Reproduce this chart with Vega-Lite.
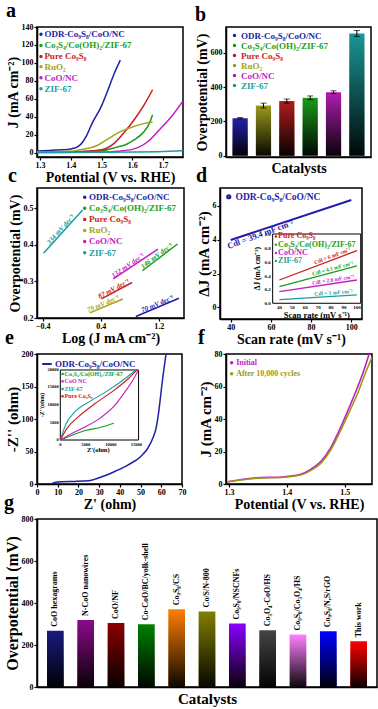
{
"$schema": "https://vega.github.io/schema/vega-lite/v6.json",
"padding": {"left": 3, "top": 0, "right": 0, "bottom": 0},
"spacing": -20,
"resolve": {"scale": {"color": "independent", "x": "independent", "y": "independent"}, "legend": {"color": "independent"}},
"config": {
 "font": "Liberation Serif",
 "view": {"stroke": "black", "strokeWidth": 1.5},
 "axis": {"grid": false, "domainColor": "black", "domainWidth": 1.5, "tickColor": "black", "tickWidth": 1.2, "tickSize": 3, "labelFontSize": 8, "labelFontWeight": "bold", "labelColor": "black", "labelPadding": 1, "titleFontSize": 14, "titleFontWeight": "bold", "titleColor": "black", "titlePadding": 1, "labelFlush": false, "labelOverlap": false},
 "title": {"fontSize": 20, "fontWeight": "bold", "anchor": "start", "frame": "bounds", "offset": 2, "color": "black"},
 "legend": {"labelFontSize": 9, "labelFontWeight": "bold", "rowPadding": -5, "padding": 2, "offset": 2, "labelOffset": 2, "symbolSize": 14, "symbolStrokeWidth": 0},
 "text": {"fontWeight": "bold"}
},
"datasets": {
 "lsv": [
  {"s":"ODR-Co₉S₈/CoO/NC","V":1.29,"J":1.8},{"s":"ODR-Co₉S₈/CoO/NC","V":1.33,"J":2.3},{"s":"ODR-Co₉S₈/CoO/NC","V":1.37,"J":3},{"s":"ODR-Co₉S₈/CoO/NC","V":1.40,"J":4},{"s":"ODR-Co₉S₈/CoO/NC","V":1.42,"J":6},{"s":"ODR-Co₉S₈/CoO/NC","V":1.435,"J":10},{"s":"ODR-Co₉S₈/CoO/NC","V":1.45,"J":18},{"s":"ODR-Co₉S₈/CoO/NC","V":1.47,"J":33},{"s":"ODR-Co₉S₈/CoO/NC","V":1.50,"J":52},{"s":"ODR-Co₉S₈/CoO/NC","V":1.52,"J":69},{"s":"ODR-Co₉S₈/CoO/NC","V":1.54,"J":87},{"s":"ODR-Co₉S₈/CoO/NC","V":1.561,"J":103},
  {"s":"Co₃S₄/Co(OH)₂/ZIF-67","V":1.29,"J":0.3},{"s":"Co₃S₄/Co(OH)₂/ZIF-67","V":1.45,"J":1},{"s":"Co₃S₄/Co(OH)₂/ZIF-67","V":1.50,"J":2},{"s":"Co₃S₄/Co(OH)₂/ZIF-67","V":1.55,"J":6},{"s":"Co₃S₄/Co(OH)₂/ZIF-67","V":1.58,"J":9},{"s":"Co₃S₄/Co(OH)₂/ZIF-67","V":1.606,"J":14},{"s":"Co₃S₄/Co(OH)₂/ZIF-67","V":1.64,"J":24},{"s":"Co₃S₄/Co(OH)₂/ZIF-67","V":1.655,"J":32},{"s":"Co₃S₄/Co(OH)₂/ZIF-67","V":1.666,"J":42},
  {"s":"Pure Co₉S₈","V":1.29,"J":0.5},{"s":"Pure Co₉S₈","V":1.40,"J":0.8},{"s":"Pure Co₉S₈","V":1.45,"J":1.5},{"s":"Pure Co₉S₈","V":1.50,"J":3},{"s":"Pure Co₉S₈","V":1.54,"J":10},{"s":"Pure Co₉S₈","V":1.575,"J":23},{"s":"Pure Co₉S₈","V":1.605,"J":36},{"s":"Pure Co₉S₈","V":1.64,"J":54},{"s":"Pure Co₉S₈","V":1.666,"J":70},
  {"s":"RuO₂","V":1.29,"J":0.8},{"s":"RuO₂","V":1.40,"J":1.5},{"s":"RuO₂","V":1.43,"J":3},{"s":"RuO₂","V":1.46,"J":5},{"s":"RuO₂","V":1.48,"J":7},{"s":"RuO₂","V":1.52,"J":15},{"s":"RuO₂","V":1.56,"J":23},{"s":"RuO₂","V":1.60,"J":28.5},{"s":"RuO₂","V":1.64,"J":32.5},{"s":"RuO₂","V":1.666,"J":34},
  {"s":"CoO/NC","V":1.29,"J":0},{"s":"CoO/NC","V":1.50,"J":0.5},{"s":"CoO/NC","V":1.55,"J":1.5},{"s":"CoO/NC","V":1.60,"J":3.5},{"s":"CoO/NC","V":1.65,"J":12},{"s":"CoO/NC","V":1.69,"J":26},{"s":"CoO/NC","V":1.725,"J":39},{"s":"CoO/NC","V":1.764,"J":57},
  {"s":"ZIF-67","V":1.29,"J":0},{"s":"ZIF-67","V":1.5,"J":0.3},{"s":"ZIF-67","V":1.6,"J":0.6},{"s":"ZIF-67","V":1.7,"J":1.2},{"s":"ZIF-67","V":1.764,"J":2}
 ],
 "aleg": [{"s":"ODR-Co₉S₈/CoO/NC","y":131.8},{"s":"Co₃S₄/Co(OH)₂/ZIF-67","y":119.4},{"s":"Pure Co₉S₈","y":107.1},{"s":"RuO₂","y":95.8},{"s":"CoO/NC","y":83.5},{"s":"ZIF-67","y":71.1}],
 "ovb": [
  {"c":"ODR-Co₉S₈/CoO/NC","v":218,"lo":214,"hi":222},
  {"c":"RuO₂","v":292,"lo":278,"hi":306},
  {"c":"Pure Co₉S₈","v":318,"lo":306,"hi":330},
  {"c":"Co₃S₄/Co(OH)₂/ZIF-67","v":337,"lo":326,"hi":348},
  {"c":"CoO/NC","v":370,"lo":362,"hi":378},
  {"c":"ZIF-67","v":712,"lo":694,"hi":730}
 ],
 "tafel": [
  {"s":"ZIF-67","x":-0.39,"y":0.377},{"s":"ZIF-67","x":0.15,"y":0.495},
  {"s":"CoO/NC","x":0.573,"y":0.307},{"s":"CoO/NC","x":1.19,"y":0.388},
  {"s":"Co₃S₄/Co(OH)₂/ZIF-67","x":0.975,"y":0.329},{"s":"Co₃S₄/Co(OH)₂/ZIF-67","x":1.46,"y":0.402},
  {"s":"Pure Co₉S₈","x":0.41,"y":0.252},{"s":"Pure Co₉S₈","x":0.833,"y":0.297},
  {"s":"RuO₂","x":0.25,"y":0.214},{"s":"RuO₂","x":0.705,"y":0.252},
  {"s":"ODR-Co₉S₈/CoO/NC","x":0.885,"y":0.204},{"s":"ODR-Co₉S₈/CoO/NC","x":1.48,"y":0.254}
 ],
 "cleg": [{"s":"ODR-Co₉S₈/CoO/NC","y":0.530},{"s":"Co₃S₄/Co(OH)₂/ZIF-67","y":0.4995},{"s":"Pure Co₉S₈","y":0.469},{"s":"RuO₂","y":0.439},{"s":"CoO/NC","y":0.409},{"s":"ZIF-67","y":0.378}],
 "tlab": [
  {"s":"ZIF-67","x":-0.12,"y":0.436,"t":"334 mV dec⁻¹"},
  {"s":"CoO/NC","x":0.8,"y":0.336,"t":"132 mV dec⁻¹"},
  {"s":"Co₃S₄/Co(OH)₂/ZIF-67","x":1.2,"y":0.363,"t":"146 mV dec⁻¹"},
  {"s":"Pure Co₉S₈","x":0.6,"y":0.272,"t":"87 mV dec⁻¹"},
  {"s":"RuO₂","x":0.45,"y":0.231,"t":"79 mV dec⁻¹"},
  {"s":"ODR-Co₉S₈/CoO/NC","x":1.2,"y":0.2305,"t":"70 mV dec⁻¹"}
 ],
 "cdl": [{"s":"ODR-Co₉S₈/CoO/NC","x":40,"y":3.98},{"s":"ODR-Co₉S₈/CoO/NC","x":100,"y":6.34}],
 "cdlLab": [{"x":54,"y":4.55,"t":"Cdl = 39.4 mF cm⁻²"}],
 "cdlIn": [
  {"s":"Pure Co₉S₈","x":40,"y":0.336},{"s":"Pure Co₉S₈","x":100,"y":0.76},
  {"s":"Co₃S₄/Co(OH)₂/ZIF-67","x":40,"y":0.24},{"s":"Co₃S₄/Co(OH)₂/ZIF-67","x":100,"y":0.54},
  {"s":"CoO/NC","x":40,"y":0.167},{"s":"CoO/NC","x":100,"y":0.336},
  {"s":"ZIF-67","x":40,"y":0.052},{"s":"ZIF-67","x":100,"y":0.12}
 ],
 "cdlInLeg": [{"s":"Pure Co₉S₈","y":0.965},{"s":"Co₃S₄/Co(OH)₂/ZIF-67","y":0.845},{"s":"CoO/NC","y":0.725},{"s":"ZIF-67","y":0.61}],
 "cdlInLab": [
  {"s":"Pure Co₉S₈","x":82,"y":0.633,"t":"Cdl = 6 mF cm⁻²"},
  {"s":"Co₃S₄/Co(OH)₂/ZIF-67","x":82,"y":0.45,"t":"Cdl = 4.1 mF cm⁻²"},
  {"s":"CoO/NC","x":82,"y":0.285,"t":"Cdl = 2.8 mF cm⁻²"},
  {"s":"ZIF-67","x":82,"y":0.1,"t":"Cdl = 1 mF cm⁻²"}
 ],
 "cdlInX": [{"t":40},{"t":50},{"t":60},{"t":70},{"t":80},{"t":90},{"t":100}],
 "cdlInY": [{"t":0},{"t":0.2},{"t":0.4},{"t":0.6},{"t":0.8},{"t":1.0}],
 "eis": [
  {"s":"ODR-Co₉S₈/CoO/NC","x":7,"y":0},{"s":"ODR-Co₉S₈/CoO/NC","x":8.5,"y":2.5},{"s":"ODR-Co₉S₈/CoO/NC","x":12,"y":3.5},{"s":"ODR-Co₉S₈/CoO/NC","x":18,"y":4},{"s":"ODR-Co₉S₈/CoO/NC","x":25,"y":5},{"s":"ODR-Co₉S₈/CoO/NC","x":29,"y":8.5},{"s":"ODR-Co₉S₈/CoO/NC","x":33,"y":13},{"s":"ODR-Co₉S₈/CoO/NC","x":38,"y":20},{"s":"ODR-Co₉S₈/CoO/NC","x":44,"y":29.5},{"s":"ODR-Co₉S₈/CoO/NC","x":50,"y":42},{"s":"ODR-Co₉S₈/CoO/NC","x":53.5,"y":55},{"s":"ODR-Co₉S₈/CoO/NC","x":56,"y":71},{"s":"ODR-Co₉S₈/CoO/NC","x":57.5,"y":86},{"s":"ODR-Co₉S₈/CoO/NC","x":58.5,"y":105},{"s":"ODR-Co₉S₈/CoO/NC","x":59.3,"y":125},{"s":"ODR-Co₉S₈/CoO/NC","x":60.2,"y":150},{"s":"ODR-Co₉S₈/CoO/NC","x":61.5,"y":182},{"s":"ODR-Co₉S₈/CoO/NC","x":62.3,"y":200}
 ],
 "eisIn": [
  {"s":"Co₃S₄/Co(OH)₂/ZIF-67","x":0,"y":0},{"s":"Co₃S₄/Co(OH)₂/ZIF-67","x":2100,"y":1240},{"s":"Co₃S₄/Co(OH)₂/ZIF-67","x":4760,"y":2670},{"s":"Co₃S₄/Co(OH)₂/ZIF-67","x":8060,"y":3620},{"s":"Co₃S₄/Co(OH)₂/ZIF-67","x":10570,"y":4760},
  {"s":"CoO NC","x":0,"y":0},{"s":"CoO NC","x":2100,"y":1700},{"s":"CoO NC","x":4760,"y":3620},{"s":"CoO NC","x":8060,"y":6480},{"s":"CoO NC","x":10700,"y":9810},{"s":"CoO NC","x":12690,"y":13620},{"s":"CoO NC","x":14670,"y":17900},{"s":"CoO NC","x":15400,"y":20000},
  {"s":"ZIF-67","x":0,"y":0},{"s":"ZIF-67","x":1120,"y":4570},{"s":"ZIF-67","x":2780,"y":7900},{"s":"ZIF-67","x":6080,"y":11240},{"s":"ZIF-67","x":9380,"y":14100},{"s":"ZIF-67","x":12690,"y":17430},{"s":"ZIF-67","x":14900,"y":20000},
  {"s":"Pure Co₉S₈","x":0,"y":0},{"s":"Pure Co₉S₈","x":1450,"y":3620},{"s":"Pure Co₉S₈","x":3440,"y":6480},{"s":"Pure Co₉S₈","x":6740,"y":10290},{"s":"Pure Co₉S₈","x":10040,"y":13620},{"s":"Pure Co₉S₈","x":13350,"y":17430},{"s":"Pure Co₉S₈","x":15100,"y":20000}
 ],
 "eisInLeg": [{"s":"Co₃S₄/Co(OH)₂/ZIF-67","y":18860},{"s":"CoO NC","y":16770},{"s":"ZIF-67","y":14570},{"s":"Pure Co₉S₈","y":12490}],
 "eisInX": [{"t":0},{"t":5000},{"t":10000},{"t":15000}],
 "eisInY": [{"t":0},{"t":5000},{"t":10000},{"t":15000},{"t":20000}],
 "stab": [
  {"s":"Initial","V":1.297,"J":1.4},{"s":"Initial","V":1.344,"J":3.7},{"s":"Initial","V":1.396,"J":4.5},{"s":"Initial","V":1.424,"J":6},{"s":"Initial","V":1.441,"J":9},{"s":"Initial","V":1.459,"J":14},{"s":"Initial","V":1.476,"J":22.6},{"s":"Initial","V":1.493,"J":35},{"s":"Initial","V":1.51,"J":49},{"s":"Initial","V":1.522,"J":59.5},{"s":"Initial","V":1.533,"J":70},{"s":"Initial","V":1.542,"J":80},
  {"s":"After 10,000 cycles","V":1.297,"J":1.2},{"s":"After 10,000 cycles","V":1.344,"J":3.4},{"s":"After 10,000 cycles","V":1.396,"J":4.2},{"s":"After 10,000 cycles","V":1.424,"J":5.5},{"s":"After 10,000 cycles","V":1.441,"J":8.2},{"s":"After 10,000 cycles","V":1.459,"J":12.8},{"s":"After 10,000 cycles","V":1.476,"J":21},{"s":"After 10,000 cycles","V":1.493,"J":33},{"s":"After 10,000 cycles","V":1.51,"J":46},{"s":"After 10,000 cycles","V":1.522,"J":55.5},{"s":"After 10,000 cycles","V":1.533,"J":66},{"s":"After 10,000 cycles","V":1.547,"J":78}
 ],
 "fleg": [{"s":"Initial","y":74.6},{"s":"After 10,000 cycles","y":67.9}],
 "lit": [
  {"c":"CoO hexagrams","v":268},{"c":"N-CoO nanowires","v":319},{"c":"CoO/NF","v":305},{"c":"Co-CoO/BC/yolk-shell","v":299},{"c":"Co₉S₈/CS","v":370},{"c":"Co/S/N-800","v":360},{"c":"Co₉S₈/NSCNFs","v":302},{"c":"Co₃O₄-CoO/HS","v":270},{"c":"Co₉S₈/Co₃O₄/HS","v":250},{"c":"Co₉S₈/N,S/rGO","v":265},{"c":"This work","v":218}
 ]
},
"vconcat": [
 {"hconcat": [
  {
   "title": "a", "width": 146, "height": 130,
   "layer": [
    {"data": {"name": "lsv"}, "mark": {"type": "line", "strokeWidth": 1.5, "interpolate": "monotone", "clip": true},
     "encoding": {
      "x": {"field": "V", "type": "quantitative", "scale": {"domain": [1.29, 1.765], "nice": false, "zero": false}, "axis": {"values": [1.3,1.4,1.5,1.6,1.7], "format": ".1f", "title": "Potential (V vs. RHE)"}},
      "y": {"field": "J", "type": "quantitative", "scale": {"domain": [-5, 140], "nice": false}, "axis": {"values": [0,20,40,60,80,100,120,140], "title": "J (mA cm⁻²)"}},
      "color": {"field": "s", "type": "nominal", "scale": {"domain": ["ODR-Co₉S₈/CoO/NC","Co₃S₄/Co(OH)₂/ZIF-67","Pure Co₉S₈","RuO₂","CoO/NC","ZIF-67"], "range": ["#1e1ea8","#1a9e1a","#c81e1e","#a3a31c","#c41cc4","#1a9e9e"]}, "legend": null}
     }},
    {"data": {"name": "aleg"}, "mark": {"type": "point", "filled": true, "size": 12, "opacity": 1}, "encoding": {
      "x": {"datum": 1.303, "type": "quantitative", "axis": {"values": [1.3,1.4,1.5,1.6,1.7], "format": ".1f", "title": "Potential (V vs. RHE)"}},
      "y": {"field": "y", "type": "quantitative", "axis": {"values": [0,20,40,60,80,100,120,140], "title": "J (mA cm⁻²)"}},
      "color": {"field": "s", "type": "nominal", "legend": null}}},
    {"data": {"name": "aleg"}, "mark": {"type": "text", "align": "left", "baseline": "middle", "fontSize": 9}, "encoding": {
      "x": {"datum": 1.314, "type": "quantitative", "axis": {"values": [1.3,1.4,1.5,1.6,1.7], "format": ".1f", "title": "Potential (V vs. RHE)"}},
      "y": {"field": "y", "type": "quantitative", "axis": {"values": [0,20,40,60,80,100,120,140], "title": "J (mA cm⁻²)"}},
      "text": {"field": "s"}, "color": {"field": "s", "type": "nominal", "legend": null}}}
   ]
  },
  {
   "title": "b", "width": 145, "height": 130,
   "data": {"name": "ovb"},
   "encoding": {"x": {"field": "c", "type": "nominal", "sort": null, "scale": {"paddingInner": 0.35, "paddingOuter": 0.28}, "axis": {"labels": false, "ticks": false, "title": "Catalysts", "titlePadding": 4}}},
   "layer": [
    {"mark": {"type": "bar"}, "encoding": {
      "y": {"field": "v", "type": "quantitative", "scale": {"domain": [-8, 750], "nice": false}, "axis": {"values": [0,100,200,300,400,500,600,700], "title": "Overpotential (mV)"}},
      "color": {"field": "c", "type": "nominal", "scale": {"domain": ["ODR-Co₉S₈/CoO/NC","Co₃S₄/Co(OH)₂/ZIF-67","Pure Co₉S₈","RuO₂","CoO/NC","ZIF-67"], "range": ["#2020a8","#1a9a1a","#b01c1c","#9a9a1c","#b01cb0","#1a9696"]},
       "legend": {"title": null, "orient": "top-left", "symbolType": "circle", "symbolSize": 12, "rowPadding": -6, "labelColor": {"expr": "['#1e1ea8','#1a9e1a','#c81e1e','#a3a31c','#c41cc4','#1a9e9e'][indexof(['ODR-Co₉S₈/CoO/NC','Co₃S₄/Co(OH)₂/ZIF-67','Pure Co₉S₈','RuO₂','CoO/NC','ZIF-67'], datum.label)]"}}}}},
    {"mark": {"type": "bar", "fill": {"gradient": "linear", "x1": 0, "y1": 0, "x2": 0, "y2": 1, "stops": [{"offset": 0, "color": "rgba(0,0,0,0)"}, {"offset": 1, "color": "rgba(0,0,0,0.95)"}]}}, "encoding": {"y": {"field": "v", "type": "quantitative", "title": "Overpotential (mV)"}}},
    {"mark": {"type": "rule", "color": "black", "strokeWidth": 1}, "encoding": {"y": {"field": "lo", "type": "quantitative", "title": "Overpotential (mV)"}, "y2": {"field": "hi"}}},
    {"mark": {"type": "tick", "color": "black", "thickness": 1, "size": 6}, "encoding": {"y": {"field": "lo", "type": "quantitative", "title": "Overpotential (mV)"}}},
    {"mark": {"type": "tick", "color": "black", "thickness": 1, "size": 6}, "encoding": {"y": {"field": "hi", "type": "quantitative", "title": "Overpotential (mV)"}}}
   ]
  }
 ], "spacing": 10, "resolve": {"scale": {"color": "independent", "x": "independent", "y": "independent"}, "legend": {"color": "independent"}}},
 {"hconcat": [
  {
   "title": "c", "width": 147, "height": 130,
   "layer": [
    {"data": {"name": "tafel"}, "mark": {"type": "line", "strokeWidth": 1.5},
     "encoding": {
      "x": {"field": "x", "type": "quantitative", "scale": {"domain": [-0.48, 1.55], "nice": false, "zero": false}, "axis": {"values": [-0.4,0,0.4,0.8,1.2], "format": ".1f", "title": "Log (J mA cm⁻²)"}},
      "y": {"field": "y", "type": "quantitative", "scale": {"domain": [0.2, 0.555], "nice": false, "zero": false}, "axis": {"values": [0.2,0.3,0.4,0.5], "format": ".1f", "title": "Overpotential (mV)"}},
      "color": {"field": "s", "type": "nominal", "scale": {"domain": ["ODR-Co₉S₈/CoO/NC","Co₃S₄/Co(OH)₂/ZIF-67","Pure Co₉S₈","RuO₂","CoO/NC","ZIF-67"], "range": ["#1e1ea8","#1a9e1a","#c81e1e","#a3a31c","#c41cc4","#1a9e9e"]}, "legend": null}
     }},
    {"data": {"name": "cleg"}, "mark": {"type": "point", "filled": true, "size": 12, "opacity": 1}, "encoding": {
      "x": {"datum": 0.179, "type": "quantitative", "axis": {"values": [-0.4,0,0.4,0.8,1.2], "format": ".1f", "title": "Log (J mA cm⁻²)"}},
      "y": {"field": "y", "type": "quantitative", "axis": {"values": [0.2,0.3,0.4,0.5], "format": ".1f", "title": "Overpotential (mV)"}},
      "color": {"field": "s", "type": "nominal", "legend": null}}},
    {"data": {"name": "cleg"}, "mark": {"type": "text", "align": "left", "baseline": "middle", "fontSize": 9}, "encoding": {
      "x": {"datum": 0.238, "type": "quantitative", "axis": {"values": [-0.4,0,0.4,0.8,1.2], "format": ".1f", "title": "Log (J mA cm⁻²)"}},
      "y": {"field": "y", "type": "quantitative", "axis": {"values": [0.2,0.3,0.4,0.5], "format": ".1f", "title": "Overpotential (mV)"}},
      "text": {"field": "s"}, "color": {"field": "s", "type": "nominal", "legend": null}}},
    {"data": {"name": "tlab"}, "transform": [{"filter": "datum.s == 'ZIF-67'"}], "mark": {"type": "text", "angle": 312, "baseline": "bottom", "fontSize": 7, "fontStyle": "italic", "color": "#1a9e9e"}, "encoding": {"x": {"field": "x", "type": "quantitative", "title": "Log (J mA cm⁻²)"}, "y": {"field": "y", "type": "quantitative", "title": "Overpotential (mV)"}, "text": {"field": "t"}}},
    {"data": {"name": "tlab"}, "transform": [{"filter": "datum.s == 'CoO/NC'"}], "mark": {"type": "text", "angle": 326, "baseline": "bottom", "fontSize": 7, "fontStyle": "italic", "color": "#c41cc4"}, "encoding": {"x": {"field": "x", "type": "quantitative", "title": "Log (J mA cm⁻²)"}, "y": {"field": "y", "type": "quantitative", "title": "Overpotential (mV)"}, "text": {"field": "t"}}},
    {"data": {"name": "tlab"}, "transform": [{"filter": "datum.s == 'Co₃S₄/Co(OH)₂/ZIF-67'"}], "mark": {"type": "text", "angle": 323, "baseline": "bottom", "fontSize": 7, "fontStyle": "italic", "color": "#1a9e1a"}, "encoding": {"x": {"field": "x", "type": "quantitative", "title": "Log (J mA cm⁻²)"}, "y": {"field": "y", "type": "quantitative", "title": "Overpotential (mV)"}, "text": {"field": "t"}}},
    {"data": {"name": "tlab"}, "transform": [{"filter": "datum.s == 'Pure Co₉S₈'"}], "mark": {"type": "text", "angle": 332, "baseline": "bottom", "fontSize": 7, "fontStyle": "italic", "color": "#c81e1e"}, "encoding": {"x": {"field": "x", "type": "quantitative", "title": "Log (J mA cm⁻²)"}, "y": {"field": "y", "type": "quantitative", "title": "Overpotential (mV)"}, "text": {"field": "t"}}},
    {"data": {"name": "tlab"}, "transform": [{"filter": "datum.s == 'RuO₂'"}], "mark": {"type": "text", "angle": 337, "baseline": "bottom", "fontSize": 7, "fontStyle": "italic", "color": "#a3a31c"}, "encoding": {"x": {"field": "x", "type": "quantitative", "title": "Log (J mA cm⁻²)"}, "y": {"field": "y", "type": "quantitative", "title": "Overpotential (mV)"}, "text": {"field": "t"}}},
    {"data": {"name": "tlab"}, "transform": [{"filter": "datum.s == 'ODR-Co₉S₈/CoO/NC'"}], "mark": {"type": "text", "angle": 337, "baseline": "bottom", "fontSize": 7, "fontStyle": "italic", "color": "#1e1ea8"}, "encoding": {"x": {"field": "x", "type": "quantitative", "title": "Log (J mA cm⁻²)"}, "y": {"field": "y", "type": "quantitative", "title": "Overpotential (mV)"}, "text": {"field": "t"}}}
   ]
  },
  {
   "title": "d", "width": 142, "height": 131,
   "layer": [
    {"layer": [
     {"data": {"name": "cdl"}, "mark": {"type": "line", "strokeWidth": 2},
      "encoding": {
       "x": {"field": "x", "type": "quantitative", "scale": {"domain": [34.7, 105.3], "nice": false, "zero": false}, "axis": {"values": [40,50,60,70,80,90,100], "title": "Scan rate (mV s⁻¹)"}},
       "y": {"field": "y", "type": "quantitative", "scale": {"domain": [-0.68, 7.05], "nice": false, "zero": false}, "axis": {"values": [0,1,2,3,4,5,6,7], "title": "ΔJ (mA cm⁻²)", "titleFontSize": 15}},
       "color": {"field": "s", "type": "nominal", "scale": {"domain": ["ODR-Co₉S₈/CoO/NC"], "range": ["#1e1ea8"]}, "legend": {"title": null, "orient": "top-left", "symbolType": "circle", "symbolSize": 5, "symbolStrokeWidth": 3, "labelFontSize": 9.5, "labelColor": "#1e1ea8"}}
      }},
     {"data": {"name": "cdlLab"}, "mark": {"type": "text", "angle": 340, "baseline": "top", "dy": 0, "fontSize": 8.5, "color": "#1e1ea8"},
      "encoding": {"x": {"field": "x", "type": "quantitative", "title": "Scan rate (mV s⁻¹)"}, "y": {"field": "y", "type": "quantitative", "title": "ΔJ (mA cm⁻²)"}, "text": {"field": "t"}}}
    ]},
    {"layer": [
     {"data": {"values": [{}]}, "mark": {"type": "rect", "fill": "white", "stroke": "black", "strokeWidth": 1},
      "encoding": {"x": {"datum": 34.8, "type": "quantitative", "scale": {"domain": [-5.94, 103.9], "nice": false, "zero": false}, "axis": null}, "x2": {"datum": 102.9}, "y": {"datum": 0, "type": "quantitative", "scale": {"domain": [-0.227, 1.664], "nice": false, "zero": false}, "axis": null}, "y2": {"datum": 1.0}}},
     {"data": {"name": "cdlIn"}, "mark": {"type": "line", "strokeWidth": 1.3},
      "encoding": {"x": {"field": "x", "type": "quantitative", "axis": null}, "y": {"field": "y", "type": "quantitative", "axis": null},
       "color": {"field": "s", "type": "nominal", "scale": {"domain": ["Pure Co₉S₈","Co₃S₄/Co(OH)₂/ZIF-67","CoO/NC","ZIF-67"], "range": ["#c81e1e","#1a9e1a","#c41cc4","#1a9e9e"]}, "legend": null}}},
     {"data": {"name": "cdlInLeg"}, "mark": {"type": "point", "filled": true, "size": 6, "opacity": 1},
      "encoding": {"x": {"datum": 37.3, "type": "quantitative", "axis": null}, "y": {"field": "y", "type": "quantitative", "axis": null}, "color": {"field": "s", "type": "nominal", "legend": null}}},
     {"data": {"name": "cdlInLeg"}, "mark": {"type": "text", "align": "left", "baseline": "middle", "fontSize": 8},
      "encoding": {"x": {"datum": 39, "type": "quantitative", "axis": null}, "y": {"field": "y", "type": "quantitative", "axis": null}, "text": {"field": "s"}, "color": {"field": "s", "type": "nominal", "legend": null}}},
     {"data": {"name": "cdlInLab"}, "transform": [{"filter": "datum.s == 'Pure Co₉S₈'"}], "mark": {"type": "text", "angle": 339, "baseline": "bottom", "dy": -1, "fontSize": 5.5, "color": "#c81e1e"},
      "encoding": {"x": {"field": "x", "type": "quantitative", "axis": null}, "y": {"field": "y", "type": "quantitative", "axis": null}, "text": {"field": "t"}}},
     {"data": {"name": "cdlInLab"}, "transform": [{"filter": "datum.s == 'Co₃S₄/Co(OH)₂/ZIF-67'"}], "mark": {"type": "text", "angle": 345, "baseline": "bottom", "dy": -1, "fontSize": 5.5, "color": "#1a9e1a"},
      "encoding": {"x": {"field": "x", "type": "quantitative", "axis": null}, "y": {"field": "y", "type": "quantitative", "axis": null}, "text": {"field": "t"}}},
     {"data": {"name": "cdlInLab"}, "transform": [{"filter": "datum.s == 'CoO/NC'"}], "mark": {"type": "text", "angle": 351, "baseline": "bottom", "dy": -1, "fontSize": 5.5, "color": "#c41cc4"},
      "encoding": {"x": {"field": "x", "type": "quantitative", "axis": null}, "y": {"field": "y", "type": "quantitative", "axis": null}, "text": {"field": "t"}}},
     {"data": {"name": "cdlInLab"}, "transform": [{"filter": "datum.s == 'ZIF-67'"}], "mark": {"type": "text", "angle": 356, "baseline": "bottom", "dy": -1, "fontSize": 5.5, "color": "#1a9e9e"},
      "encoding": {"x": {"field": "x", "type": "quantitative", "axis": null}, "y": {"field": "y", "type": "quantitative", "axis": null}, "text": {"field": "t"}}},
     {"data": {"name": "cdlInX"}, "mark": {"type": "text", "baseline": "top", "dy": 1.5, "fontSize": 5},
      "encoding": {"x": {"field": "t", "type": "quantitative", "axis": null}, "y": {"datum": 0, "type": "quantitative", "axis": null}, "text": {"field": "t"}}},
     {"data": {"name": "cdlInY"}, "mark": {"type": "text", "align": "right", "baseline": "middle", "dx": -2, "fontSize": 5},
      "encoding": {"x": {"datum": 34.8, "type": "quantitative", "axis": null}, "y": {"field": "t", "type": "quantitative", "axis": null}, "text": {"field": "t", "format": ".1f"}}},
     {"data": {"values": [{"t": "Scan rate (mV s⁻¹)"}]}, "mark": {"type": "text", "baseline": "top", "dy": 8, "fontSize": 8.5},
      "encoding": {"x": {"datum": 69, "type": "quantitative", "axis": null}, "y": {"datum": 0, "type": "quantitative", "axis": null}, "text": {"field": "t"}}},
     {"data": {"values": [{"t": "ΔJ (mA cm⁻²)"}]}, "mark": {"type": "text", "angle": 270, "baseline": "bottom", "dy": -11, "fontSize": 7.5},
      "encoding": {"x": {"datum": 34.8, "type": "quantitative", "axis": null}, "y": {"datum": 0.5, "type": "quantitative", "axis": null}, "text": {"field": "t"}}}
    ]}
   ],
   "resolve": {"scale": {"x": "independent", "y": "independent", "color": "independent"}, "axis": {"x": "independent", "y": "independent"}, "legend": {"color": "independent"}}
  }
 ], "spacing": 10, "resolve": {"scale": {"color": "independent", "x": "independent", "y": "independent"}, "legend": {"color": "independent"}}},
 {"hconcat": [
  {
   "title": "e", "width": 145, "height": 130,
   "layer": [
    {"data": {"name": "eis"}, "mark": {"type": "line", "strokeWidth": 1.5, "interpolate": "monotone"},
     "encoding": {
      "x": {"field": "x", "type": "quantitative", "scale": {"domain": [0, 70], "nice": false}, "axis": {"values": [0,10,20,30,40,50,60,70], "title": "Z' (ohm)"}},
      "y": {"field": "y", "type": "quantitative", "scale": {"domain": [0, 200], "nice": false}, "axis": {"values": [0,50,100,150,200], "title": "-Z'' (ohm)", "titleFontSize": 15}},
      "order": {"field": "y", "type": "quantitative"},
      "color": {"field": "s", "type": "nominal", "scale": {"domain": ["ODR-Co₉S₈/CoO/NC"], "range": ["#1e1ea8"]}, "legend": {"title": null, "orient": "top-left", "symbolType": "stroke", "symbolSize": 90, "symbolStrokeWidth": 2, "labelColor": "#1e1ea8"}}
     }},
    {"layer": [
     {"data": {"values": [{}]}, "mark": {"type": "rect", "fill": "white", "stroke": "black", "strokeWidth": 1},
      "encoding": {"x": {"datum": 0, "type": "quantitative", "scale": {"domain": [-4600, 24023], "nice": false, "zero": false}, "axis": null}, "x2": {"datum": 15450}, "y": {"datum": 0, "type": "quantitative", "scale": {"domain": [-12571, 24571], "nice": false, "zero": false}, "axis": null}, "y2": {"datum": 20000}}},
     {"data": {"name": "eisIn"}, "mark": {"type": "line", "strokeWidth": 1.1, "interpolate": "monotone"},
      "encoding": {"x": {"field": "x", "type": "quantitative", "axis": null}, "y": {"field": "y", "type": "quantitative", "axis": null},
       "color": {"field": "s", "type": "nominal", "scale": {"domain": ["Co₃S₄/Co(OH)₂/ZIF-67","CoO NC","ZIF-67","Pure Co₉S₈"], "range": ["#1a9e1a","#c41cc4","#1a9e9e","#c81e1e"]}, "legend": null}}},
     {"data": {"name": "eisInLeg"}, "mark": {"type": "point", "shape": "square", "filled": true, "size": 5, "opacity": 1},
      "encoding": {"x": {"datum": 450, "type": "quantitative", "axis": null}, "y": {"field": "y", "type": "quantitative", "axis": null}, "color": {"field": "s", "type": "nominal", "legend": null}}},
     {"data": {"name": "eisInLeg"}, "mark": {"type": "text", "align": "left", "baseline": "middle", "fontSize": 6},
      "encoding": {"x": {"datum": 850, "type": "quantitative", "axis": null}, "y": {"field": "y", "type": "quantitative", "axis": null}, "text": {"field": "s"}, "color": {"field": "s", "type": "nominal", "legend": null}}},
     {"data": {"name": "eisInX"}, "mark": {"type": "text", "baseline": "top", "dy": 1.5, "fontSize": 4.5},
      "encoding": {"x": {"field": "t", "type": "quantitative", "axis": null}, "y": {"datum": 0, "type": "quantitative", "axis": null}, "text": {"field": "t", "format": "d"}}},
     {"data": {"name": "eisInY"}, "mark": {"type": "text", "align": "right", "baseline": "middle", "dx": -1.5, "fontSize": 4.5},
      "encoding": {"x": {"datum": 0, "type": "quantitative", "axis": null}, "y": {"field": "t", "type": "quantitative", "axis": null}, "text": {"field": "t", "format": "d"}}},
     {"data": {"values": [{"t": "Z'(ohm)"}]}, "mark": {"type": "text", "baseline": "top", "dy": 7, "fontSize": 6.5},
      "encoding": {"x": {"datum": 7500, "type": "quantitative", "axis": null}, "y": {"datum": 0, "type": "quantitative", "axis": null}, "text": {"field": "t"}}},
     {"data": {"values": [{"t": "-Z''(ohm)"}]}, "mark": {"type": "text", "angle": 270, "baseline": "bottom", "dy": -15, "fontSize": 6},
      "encoding": {"x": {"datum": 0, "type": "quantitative", "axis": null}, "y": {"datum": 10000, "type": "quantitative", "axis": null}, "text": {"field": "t"}}}
    ]}
   ],
   "resolve": {"scale": {"x": "independent", "y": "independent", "color": "independent"}, "axis": {"x": "independent", "y": "independent"}, "legend": {"color": "independent"}}
  },
  {
   "title": "f", "width": 146, "height": 130,
   "layer": [
    {"data": {"name": "stab"}, "mark": {"type": "line", "strokeWidth": 1.6, "interpolate": "monotone", "clip": true},
     "encoding": {
      "x": {"field": "V", "type": "quantitative", "scale": {"domain": [1.295, 1.547], "nice": false, "zero": false}, "axis": {"values": [1.3,1.4,1.5], "format": ".1f", "title": "Potential (V vs. RHE)"}},
      "y": {"field": "J", "type": "quantitative", "scale": {"domain": [0, 80], "nice": false}, "axis": {"values": [0,20,40,60,80], "title": "J (mA cm⁻²)", "titleFontSize": 15}},
      "color": {"field": "s", "type": "nominal", "scale": {"domain": ["Initial","After 10,000 cycles"], "range": ["#c41cc4","#9a9a10"]}, "legend": null}
     }},
    {"data": {"name": "fleg"}, "mark": {"type": "point", "filled": true, "size": 12, "opacity": 1}, "encoding": {
      "x": {"datum": 1.3047, "type": "quantitative", "axis": {"values": [1.3,1.4,1.5], "format": ".1f", "title": "Potential (V vs. RHE)"}},
      "y": {"field": "y", "type": "quantitative", "axis": {"values": [0,20,40,60,80], "title": "J (mA cm⁻²)", "titleFontSize": 15}},
      "color": {"field": "s", "type": "nominal", "legend": null}}},
    {"data": {"name": "fleg"}, "mark": {"type": "text", "align": "left", "baseline": "middle", "fontSize": 8}, "encoding": {
      "x": {"datum": 1.3125, "type": "quantitative", "axis": {"values": [1.3,1.4,1.5], "format": ".1f", "title": "Potential (V vs. RHE)"}},
      "y": {"field": "y", "type": "quantitative", "axis": {"values": [0,20,40,60,80], "title": "J (mA cm⁻²)", "titleFontSize": 15}},
      "text": {"field": "s"}, "color": {"field": "s", "type": "nominal", "legend": null}}}
   ]
  }
 ], "spacing": 10, "resolve": {"scale": {"color": "independent", "x": "independent", "y": "independent"}, "legend": {"color": "independent"}}},
 {
  "title": "g", "width": 340, "height": 168,
  "data": {"name": "lit"},
  "encoding": {"x": {"field": "c", "type": "nominal", "sort": null, "scale": {"paddingInner": 0.45, "paddingOuter": 0.33}, "axis": {"labels": false, "ticks": false, "title": "Catalysts", "titleFontSize": 15, "titlePadding": 4}}},
  "layer": [
   {"mark": {"type": "bar"}, "encoding": {
     "y": {"field": "v", "type": "quantitative", "scale": {"domain": [0, 800], "nice": false}, "axis": {"values": [0,200,400,600,800], "title": "Overpotential (mV)", "titleFontSize": 16}},
     "color": {"field": "c", "type": "nominal", "scale": {"domain": ["CoO hexagrams","N-CoO nanowires","CoO/NF","Co-CoO/BC/yolk-shell","Co₉S₈/CS","Co/S/N-800","Co₉S₈/NSCNFs","Co₃O₄-CoO/HS","Co₉S₈/Co₃O₄/HS","Co₉S₈/N,S/rGO","This work"], "range": ["#1a1a80","#8b0a8b","#8b0000","#008000","#ff8000","#808000","#8a00ff","#454545","#ff80ff","#0000ff","#ff0000"]}, "legend": null}}},
   {"mark": {"type": "bar", "fill": {"gradient": "linear", "x1": 0, "y1": 0, "x2": 0, "y2": 1, "stops": [{"offset": 0, "color": "rgba(0,0,0,0)"}, {"offset": 1, "color": "rgba(0,0,0,0.95)"}]}}, "encoding": {"y": {"field": "v", "type": "quantitative", "title": "Overpotential (mV)"}}},
   {"mark": {"type": "text", "angle": 270, "align": "left", "baseline": "middle", "dx": 4, "fontSize": 8}, "encoding": {"y": {"field": "v", "type": "quantitative", "title": "Overpotential (mV)"}, "text": {"field": "c"}}}
  ]
 }
]
}
